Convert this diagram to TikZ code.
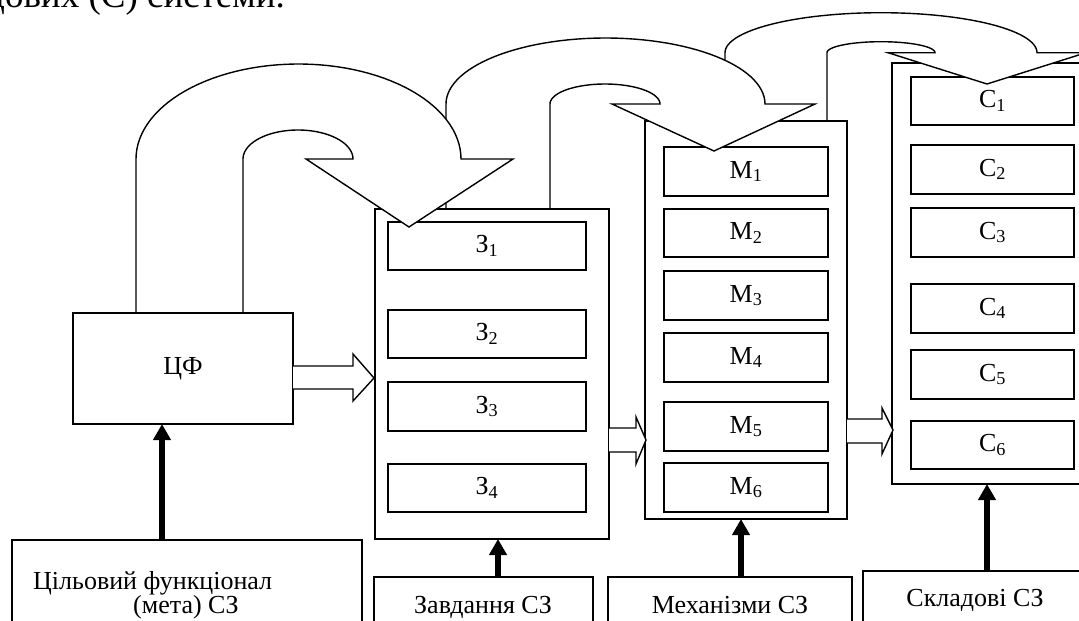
\documentclass[tikz,border=0pt]{standalone}
\usepackage{fontspec}
\setmainfont{Liberation Serif}
\usetikzlibrary{arrows.meta}
\begin{document}
\begin{tikzpicture}[x=1pt,y=-1pt,line join=miter,
  box/.style={draw,line width=1.4pt,inner sep=0pt,outer sep=0pt,anchor=north west,
    font=\fontsize{26}{30}\selectfont},
  lbl/.style={inner sep=0pt,anchor=base,font=\fontsize{26}{30}\selectfont},
  bigarrow/.style={draw,fill=white,line width=1.4pt},
  hollow/.style={draw,fill=white,line width=1.4pt},
  thickarrow/.style={line width=6pt,-{Triangle[width=17pt,length=16pt]}}]
\useasboundingbox (0,0) rectangle (1079,621);

\node[inner sep=0pt,anchor=base west,font=\fontsize{37}{40}\selectfont] (toptext) at (-14,7) {дових (С) системи.};

% C column
\node[box,minimum width=200pt,minimum height=421pt] (cbox) at (892,63) {};
\node[box,minimum width=163pt,minimum height=48pt] (c1) at (911,77) {С\textsubscript{1}};
\node[box,minimum width=163pt,minimum height=49pt] (c2) at (911,145) {С\textsubscript{2}};
\node[box,minimum width=163pt,minimum height=49pt] (c3) at (911,208) {С\textsubscript{3}};
\node[box,minimum width=163pt,minimum height=49pt] (c4) at (911,284) {С\textsubscript{4}};
\node[box,minimum width=163pt,minimum height=49pt] (c5) at (911,350) {С\textsubscript{5}};
\node[box,minimum width=163pt,minimum height=48pt] (c6) at (911,421) {С\textsubscript{6}};

% arrow 3 (M -> C)
\filldraw[bigarrow] (725,120) -- (725,52.7)
  -- plot[domain=180:0,samples=60,variable=\t] ({881+156*cos(\t)},{52.7-40*sin(\t)})
  -- (1086,52.7) -- (987,84) -- (888,52.7) -- (935,52.7)
  -- plot[domain=0:180,samples=40,variable=\t] ({881+54*cos(\t)},{52.7-11*sin(\t)})
  -- (827,120);

% M column
\node[box,minimum width=202pt,minimum height=398pt] (mbox) at (645,121) {};
\node[box,minimum width=164pt,minimum height=49pt] (m1) at (664,147) {М\textsubscript{1}};
\node[box,minimum width=164pt,minimum height=48pt] (m2) at (664,209) {М\textsubscript{2}};
\node[box,minimum width=164pt,minimum height=49pt] (m3) at (664,271) {М\textsubscript{3}};
\node[box,minimum width=164pt,minimum height=49pt] (m4) at (664,333) {М\textsubscript{4}};
\node[box,minimum width=164pt,minimum height=49pt] (m5) at (664,402) {М\textsubscript{5}};
\node[box,minimum width=164pt,minimum height=49pt] (m6) at (664,463) {М\textsubscript{6}};

% arrow 2 (Z -> M)
\filldraw[bigarrow] (446,209) -- (446,104)
  -- plot[domain=180:0,samples=60,variable=\t] ({605.5+159.5*cos(\t)},{104-66*sin(\t)})
  -- (815,104) -- (714,151) -- (612,104) -- (660,104)
  -- plot[domain=0:180,samples=40,variable=\t] ({605+55*cos(\t)},{104-20*sin(\t)})
  -- (550,209);

% Z column
\node[box,minimum width=234pt,minimum height=330pt] (zbox) at (375,209) {};
\node[box,minimum width=198pt,minimum height=48pt] (z1) at (388,222) {З\textsubscript{1}};
\node[box,minimum width=198pt,minimum height=48pt] (z2) at (388,310) {З\textsubscript{2}};
\node[box,minimum width=198pt,minimum height=49pt] (z3) at (388,382) {З\textsubscript{3}};
\node[box,minimum width=198pt,minimum height=48pt] (z4) at (388,464) {З\textsubscript{4}};

% arrow 1 (CF -> Z)
\filldraw[bigarrow] (136,313) -- (136,159)
  -- plot[domain=180:0,samples=60,variable=\t] ({298.5+162.5*cos(\t)},{159-95*sin(\t)})
  -- (513,159) -- (409,227) -- (306,159) -- (353,159)
  -- plot[domain=0:180,samples=40,variable=\t] ({298+55*cos(\t)},{159-29*sin(\t)})
  -- (243,313);

% CF
\node[box,minimum width=220pt,minimum height=111pt] (cf) at (73,313) {ЦФ};

% hollow block arrows
\filldraw[hollow] (293,366) -- (353,366) -- (353,354) -- (374,378) -- (353,401) -- (353,389) -- (293,389);
\filldraw[hollow] (609,428) -- (636,428) -- (636,417) -- (646,440) -- (636,464) -- (636,452) -- (609,452);
\filldraw[hollow] (847,419) -- (882,419) -- (882,408) -- (893,430) -- (882,454) -- (882,443) -- (847,443);

% bottom boxes
\node[box,minimum width=350pt,minimum height=100pt] (goal) at (12,540) {};
\node[box,minimum width=219pt,minimum height=60pt] (zavd) at (374,577) {};
\node[box,minimum width=244pt,minimum height=60pt] (mech) at (608,577) {};
\node[box,minimum width=220pt,minimum height=60pt] (sklad) at (863,571) {};

\node[inner sep=0pt,anchor=base west,font=\fontsize{26}{30}\selectfont] (goalt1) at (33,589) {Цільовий функціонал};
\node[inner sep=0pt,anchor=base west,font=\fontsize{26}{30}\selectfont] (goalt2) at (133,613) {(мета) СЗ};
\node[lbl] (zavdt) at (483,613) {Завдання СЗ};
\node[lbl] (mecht) at (730,613) {Механізми СЗ};
\node[lbl] (skladt) at (975,606) {Складові СЗ};

% thick arrows
\coordinate (xa) at (162,0);
\coordinate (xb) at (498,0);
\coordinate (xc) at (741,0);
\coordinate (xd) at (987,0);
\draw[thickarrow] (goal.north -| xa) -- (cf.south -| xa);
\draw[thickarrow] (zavd.north -| xb) -- (zbox.south -| xb);
\draw[thickarrow] (mech.north -| xc) -- (mbox.south -| xc);
\draw[thickarrow] (sklad.north -| xd) -- (cbox.south -| xd);
\end{tikzpicture}
\end{document}
